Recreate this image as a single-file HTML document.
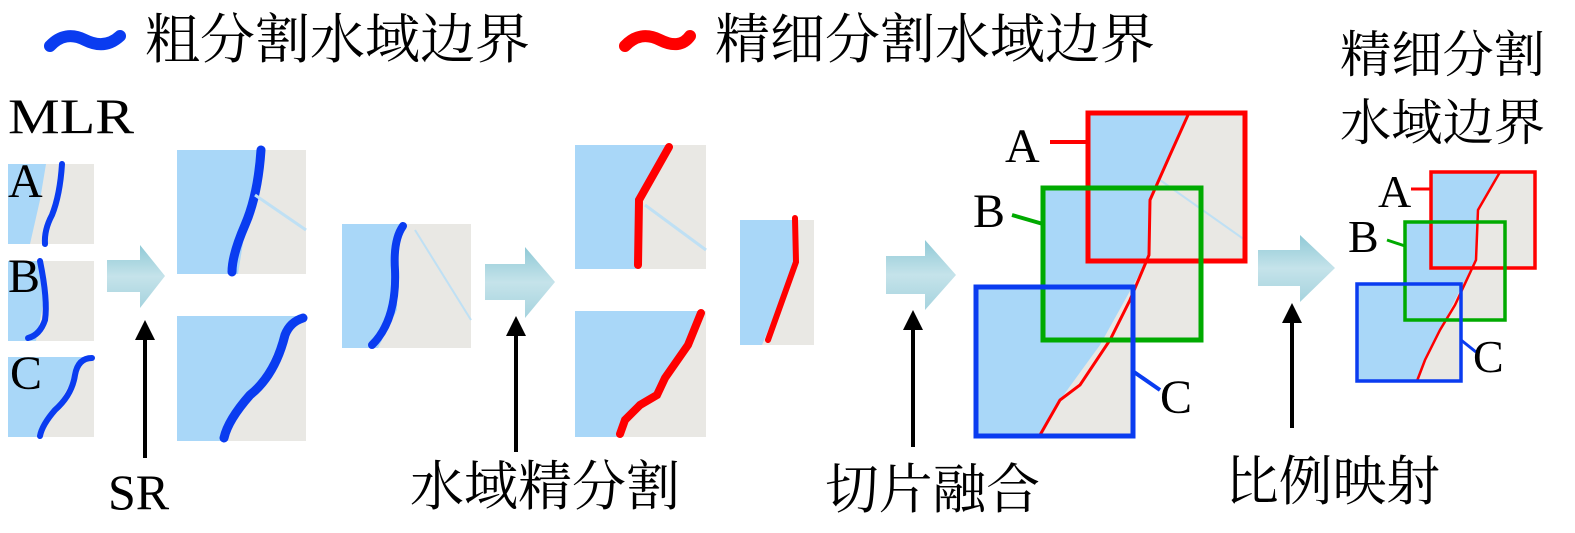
<!DOCTYPE html>
<html><head><meta charset="utf-8"><style>
html,body{margin:0;padding:0;background:#fff;}
svg{display:block}
</style></head><body>
<svg width="1575" height="533" viewBox="0 0 1575 533" xmlns="http://www.w3.org/2000/svg" font-family="'Liberation Serif','Noto Serif CJK SC',serif">
<defs>
<linearGradient id="ag" x1="0" y1="0" x2="0" y2="1">
<stop offset="0" stop-color="#8fc9d6"/><stop offset="0.5" stop-color="#c5e3ea"/><stop offset="1" stop-color="#a5d3de"/>
</linearGradient>
<clipPath id="cf">
<rect x="1088" y="113" width="157" height="148"/>
<rect x="1043" y="188" width="158" height="152"/>
<rect x="976" y="287" width="157" height="149"/>
</clipPath>
<clipPath id="cr">
<rect x="1431" y="172" width="104" height="96"/>
<rect x="1405" y="222" width="100" height="98"/>
<rect x="1357" y="284" width="104" height="97"/>
</clipPath>
</defs>
<!-- legend -->
<path d="M50,46 Q65,30 85,40 Q105,50 120,36" stroke="#0a3cf0" stroke-width="12" fill="none" stroke-linecap="round"/>
<text font-family="'Liberation Serif','Noto Serif CJK SC',serif" x="145" y="58" font-size="54" textLength="385" lengthAdjust="spacingAndGlyphs">粗分割水域边界</text>
<path d="M625,46 Q640,30 660,40 Q680,50 690,36" stroke="#f00" stroke-width="12" fill="none" stroke-linecap="round"/>
<text font-family="'Liberation Serif','Noto Serif CJK SC',serif" x="715" y="58" font-size="54" textLength="440" lengthAdjust="spacingAndGlyphs">精细分割水域边界</text>
<text font-family="'Liberation Serif',serif" x="8" y="133" font-size="50" textLength="126" lengthAdjust="spacingAndGlyphs">MLR</text>
<text font-family="'Liberation Serif','Noto Serif CJK SC',serif" x="1340" y="72" font-size="50" textLength="205" lengthAdjust="spacingAndGlyphs">精细分割</text>
<text font-family="'Liberation Serif','Noto Serif CJK SC',serif" x="1340" y="140" font-size="50" textLength="205" lengthAdjust="spacingAndGlyphs">水域边界</text>

<!-- small tiles -->
<rect x="8" y="164" width="86" height="80" fill="#e9e8e4"/>
<path d="M8,164 H46 L40,200 L30,244 H8 Z" fill="#a9d7f8"/>
<path d="M62,164 Q60,195 52,215 Q44,230 45,244" stroke="#0a3cf0" stroke-width="6" fill="none" stroke-linecap="round"/>
<rect x="8" y="261" width="86" height="80" fill="#e9e8e4"/>
<path d="M8,261 H40 L44,300 L36,341 H8 Z" fill="#a9d7f8"/>
<path d="M40,261 Q48,300 45,320 Q40,335 28,338" stroke="#0a3cf0" stroke-width="6" fill="none" stroke-linecap="round"/>
<rect x="8" y="357" width="86" height="80" fill="#e9e8e4"/>
<path d="M8,357 H88 L72,380 L50,420 L40,437 H8 Z" fill="#a9d7f8"/>
<path d="M92,358 Q78,358 75,375 Q72,395 55,410 Q42,425 40,436" stroke="#0a3cf0" stroke-width="6" fill="none" stroke-linecap="round"/>
<text font-family="'Liberation Serif',serif" x="8" y="197" font-size="48">A</text>
<text font-family="'Liberation Serif',serif" x="8" y="292" font-size="48">B</text>
<text font-family="'Liberation Serif',serif" x="10" y="389" font-size="48">C</text>

<!-- SR tiles -->
<rect x="177" y="150" width="129" height="124" fill="#e9e8e4"/>
<path d="M177,150 H262 L250,200 L238,274 H177 Z" fill="#a9d7f8"/>
<path d="M261,150 Q258,195 245,225 Q232,255 232,272" stroke="#0a3cf0" stroke-width="9" fill="none" stroke-linecap="round"/>
<path d="M255,195 L306,230" stroke="#bfe0f4" stroke-width="3"/>
<rect x="177" y="316" width="129" height="125" fill="#e9e8e4"/>
<path d="M177,316 H300 L280,340 L260,385 L230,420 L222,441 H177 Z" fill="#a9d7f8"/>
<path d="M303,318 Q290,322 285,335 Q275,375 250,395 Q228,420 224,438" stroke="#0a3cf0" stroke-width="9" fill="none" stroke-linecap="round"/>

<!-- mid tile -->
<rect x="342" y="224" width="129" height="124" fill="#e9e8e4"/>
<path d="M342,224 H405 L398,250 L397,310 L378,348 H342 Z" fill="#a9d7f8"/>
<path d="M403,226 Q393,240 395,270 Q397,320 372,345" stroke="#0a3cf0" stroke-width="8" fill="none" stroke-linecap="round"/>
<path d="M415,230 L471,320" stroke="#bfe0f4" stroke-width="2"/>

<!-- red tiles -->
<rect x="575" y="145" width="131" height="124" fill="#e9e8e4"/>
<path d="M575,145 H670 L638,200 L636,269 H575 Z" fill="#a9d7f8"/>
<path d="M669,147 L639,200 L638,265" stroke="#f00" stroke-width="8" fill="none" stroke-linecap="round"/>
<path d="M645,205 L706,250" stroke="#bfe0f4" stroke-width="3"/>
<rect x="575" y="311" width="131" height="126" fill="#e9e8e4"/>
<path d="M575,311 H704 L680,360 L655,395 L630,415 L620,437 H575 Z" fill="#a9d7f8"/>
<path d="M701,313 L688,345 L665,378 L657,395 L640,405 L625,420 L620,434" stroke="#f00" stroke-width="8" fill="none" stroke-linecap="round"/>

<rect x="740" y="220" width="74" height="125" fill="#e9e8e4"/>
<path d="M740,220 H795 L796,262 L762,345 H740 Z" fill="#a9d7f8"/>
<path d="M795,218 L796,262 L768,340" stroke="#f00" stroke-width="6" fill="none" stroke-linecap="round"/>

<!-- fused -->
<g clip-path="url(#cf)">
<rect x="970" y="110" width="280" height="330" fill="#e9e8e4"/>
<path d="M970,110 H1190 L1150,200 L1150,255 L1100,345 L1060,400 L1040,440 H970 Z" fill="#a9d7f8"/>
<path d="M1160,180 L1245,240" stroke="#bfe0f4" stroke-width="2"/>
</g>
<path d="M1188,115 L1170,155 L1150,200 L1149,255 L1130,300 L1110,340 L1080,385 L1060,400 L1040,435" stroke="#f00" stroke-width="3" fill="none"/>
<rect x="1088" y="113" width="157" height="148" fill="none" stroke="#f00" stroke-width="5"/>
<rect x="1043" y="188" width="158" height="152" fill="none" stroke="#0a0" stroke-width="5"/>
<rect x="976" y="287" width="157" height="149" fill="none" stroke="#0a3cf0" stroke-width="5"/>
<path d="M1050,142 H1088" stroke="#f00" stroke-width="4"/>
<path d="M1012,215 L1043,224" stroke="#0a0" stroke-width="4"/>
<path d="M1134,372 L1160,390" stroke="#0a3cf0" stroke-width="4"/>
<text font-family="'Liberation Serif',serif" x="1005" y="162" font-size="48">A</text>
<text font-family="'Liberation Serif',serif" x="973" y="227" font-size="48">B</text>
<text font-family="'Liberation Serif',serif" x="1160" y="413" font-size="48">C</text>

<!-- right -->
<g clip-path="url(#cr)">
<rect x="1350" y="170" width="190" height="215" fill="#e9e8e4"/>
<path d="M1350,170 H1500 L1478,210 L1476,260 L1455,300 L1430,350 L1417,385 H1350 Z" fill="#a9d7f8"/>
</g>
<path d="M1500,172 L1478,210 L1476,260 L1455,305 L1440,330 L1425,360 L1417,381" stroke="#f00" stroke-width="2.5" fill="none"/>
<rect x="1431" y="172" width="104" height="96" fill="none" stroke="#f00" stroke-width="3.5"/>
<rect x="1405" y="222" width="100" height="98" fill="none" stroke="#0a0" stroke-width="3.5"/>
<rect x="1357" y="284" width="104" height="97" fill="none" stroke="#0a3cf0" stroke-width="3.5"/>
<path d="M1411,189 H1431" stroke="#f00" stroke-width="3"/>
<path d="M1387,240 L1405,246" stroke="#0a0" stroke-width="3"/>
<path d="M1461,340 L1476,352" stroke="#0a3cf0" stroke-width="3"/>
<text font-family="'Liberation Serif',serif" x="1378" y="207" font-size="46">A</text>
<text font-family="'Liberation Serif',serif" x="1348" y="252" font-size="46">B</text>
<text font-family="'Liberation Serif',serif" x="1473" y="372" font-size="46">C</text>

<!-- block arrows -->
<g fill="url(#ag)">
<path d="M107,260 H140 V245 L165,276 L140,308 V292 H107 Z"/>
<path d="M485,264 H525 V247 L555,282 L525,318 V300 H485 Z"/>
<path d="M886,256 H925 V240 L956,275 L925,310 V294 H886 Z"/>
<path d="M1258,250 H1300 V235 L1335,268 L1300,302 V286 H1258 Z"/>
</g>
<!-- vertical arrows -->
<g stroke="#000" stroke-width="4">
<line x1="145" y1="458" x2="145" y2="335"/>
<line x1="516" y1="452" x2="516" y2="330"/>
<line x1="913" y1="447" x2="913" y2="325"/>
<line x1="1292" y1="428" x2="1292" y2="318"/>
</g>
<g fill="#000">
<path d="M135,340 L145,320 L155,340 Z"/>
<path d="M506,336 L516,316 L526,336 Z"/>
<path d="M903,330 L913,310 L923,330 Z"/>
<path d="M1282,323 L1292,303 L1302,323 Z"/>
</g>
<text font-family="'Liberation Serif',serif" x="108" y="509" font-size="50">SR</text>
<text font-family="'Liberation Serif','Noto Serif CJK SC',serif" x="410" y="505" font-size="54" textLength="270" lengthAdjust="spacingAndGlyphs">水域精分割</text>
<text font-family="'Liberation Serif','Noto Serif CJK SC',serif" x="825" y="508" font-size="54" textLength="215" lengthAdjust="spacingAndGlyphs">切片融合</text>
<text font-family="'Liberation Serif','Noto Serif CJK SC',serif" x="1225" y="500" font-size="54" textLength="215" lengthAdjust="spacingAndGlyphs">比例映射</text>
</svg>
</body></html>
